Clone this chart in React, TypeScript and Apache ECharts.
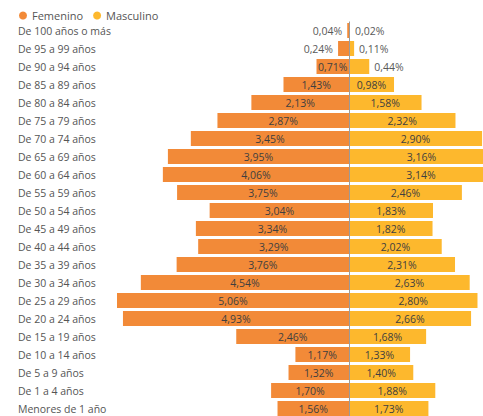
import React, { useEffect, useRef } from "react";
import * as echarts from "echarts";

const categories = [
  "De 100 años o más",
  "De 95 a 99 años",
  "De 90 a 94 años",
  "De 85 a 89 años",
  "De 80 a 84 años",
  "De 75 a 79 años",
  "De 70 a 74 años",
  "De 65 a 69 años",
  "De 60 a 64 años",
  "De 55 a 59 años",
  "De 50 a 54 años",
  "De 45 a 49 años",
  "De 40 a 44 años",
  "De 35 a 39 años",
  "De 30 a 34 años",
  "De 25 a 29 años",
  "De 20 a 24 años",
  "De 15 a 19 años",
  "De 10 a 14 años",
  "De 5 a 9 años",
  "De 1 a 4 años",
  "Menores de 1 año",
];

const femenino = [
  0.04, 0.24, 0.71, 1.43, 2.13, 2.87, 3.45, 3.95, 4.06, 3.75, 3.04, 3.34, 3.29,
  3.76, 4.54, 5.06, 4.93, 2.46, 1.17, 1.32, 1.7, 1.56,
];

const masculino = [
  0.02, 0.11, 0.44, 0.98, 1.58, 2.32, 2.9, 3.16, 3.14, 2.46, 1.83, 1.82, 2.02,
  2.31, 2.63, 2.8, 2.66, 1.68, 1.33, 1.4, 1.88, 1.73,
];

const FONT = "'Segoe UI', 'Open Sans', sans-serif";

export default function App() {
  const ref = useRef<HTMLDivElement>(null);

  useEffect(() => {
    if (!ref.current) return;
    const chart = echarts.init(ref.current, undefined, { renderer: "svg" });
    const gridWidth = 377;
    const minV = -Math.max(...femenino);
    const maxV = Math.max(...masculino);
    const pxPer = gridWidth / (maxV - minV);
    const fmt = (v: number) => Math.abs(v).toFixed(2).replace(".", ",") + "%";
    const outsideThreshold = 30;

    const femData = femenino.map((v) => {
      const small = v * pxPer < outsideThreshold;
      return {
        value: -v,
        label: small ? { position: "left", color: "#595959" } : undefined,
      };
    });
    const mascData = masculino.map((v) => {
      const small = v * pxPer < outsideThreshold;
      return {
        value: v,
        label: small ? { position: "right", color: "#595959" } : undefined,
      };
    });

    chart.setOption({
      animation: false,
      textStyle: { fontFamily: FONT },
      legend: {
        left: 14,
        top: 5,
        icon: "circle",
        itemWidth: 8,
        itemHeight: 8,
        itemGap: 10,
        textStyle: { fontSize: 11, color: "#555", fontFamily: FONT },
        data: ["Femenino", "Masculino"],
      },
      grid: { left: 117, top: 21.5, width: gridWidth, height: 396 },
      xAxis: {
        type: "value",
        min: minV,
        max: maxV,
        show: false,
      },
      yAxis: {
        type: "category",
        data: categories,
        inverse: true,
        axisLine: { show: false },
        axisTick: { show: false },
        splitLine: { show: false },
        axisLabel: {
          align: "left",
          margin: 99,
          fontSize: 10.5,
          color: "#555",
          fontFamily: FONT,
        },
      },
      series: [
        {
          name: "Femenino",
          type: "bar",
          stack: "total",
          barWidth: 15,
          data: femData,
          itemStyle: { color: "#F28A38" },
          label: {
            show: true,
            position: "inside",
            formatter: (p: any) => fmt(p.value),
            fontSize: 10.5,
            color: "#3f3f3f",
            fontFamily: FONT,
          },
        },
        {
          name: "Masculino",
          type: "bar",
          stack: "total",
          barWidth: 15,
          data: mascData,
          itemStyle: { color: "#FDB82D" },
          label: {
            show: true,
            position: "inside",
            formatter: (p: any) => fmt(p.value),
            fontSize: 10.5,
            color: "#3f3f3f",
            fontFamily: FONT,
          },
          markLine: {
            silent: true,
            symbol: "none",
            label: { show: false },
            lineStyle: { color: "#9a9a9a", type: "solid", width: 1 },
            data: [{ xAxis: 0 }],
            z: 10,
          },
        },
      ],
    });
    return () => chart.dispose();
  }, []);

  return (
    <div
      style={{
        position: "fixed",
        left: 0,
        top: 0,
        width: 483,
        height: 416,
        overflow: "hidden",
        background: "#fff",
      }}
    >
      <div ref={ref} style={{ width: 520, height: 430 }} />
    </div>
  );
}
